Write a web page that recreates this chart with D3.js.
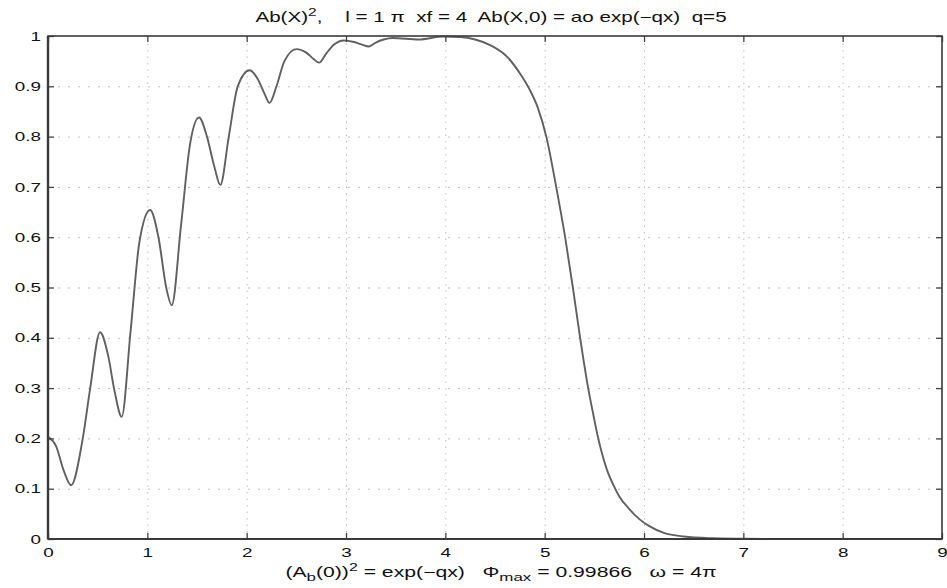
<!DOCTYPE html>
<html><head><meta charset="utf-8">
<script src="https://cdn.jsdelivr.net/npm/d3@7"></script>
<style>
body{margin:0;background:#fff}
text{font-family:"Liberation Sans",Arial,Helvetica,sans-serif;fill:#111;white-space:pre}
</style>
</head><body>
<svg id="chart" width="947" height="588"></svg>
<script>
// ---- data ----
const xValues = [0, 0.08, 0.16, 0.232, 0.35, 0.425, 0.524, 0.605, 0.672, 0.742, 0.83, 0.92, 1.028, 1.112, 1.19, 1.246, 1.34, 1.43, 1.52, 1.60, 1.675, 1.735, 1.82, 1.91, 2.03, 2.11, 2.18, 2.23, 2.30, 2.38, 2.50, 2.60, 2.67, 2.73, 2.80, 2.88, 2.98, 3.08, 3.16, 3.23, 3.30, 3.38, 3.47, 3.73, 3.98, 4.15, 4.30, 4.45, 4.62, 4.75, 4.85, 4.93, 5.02, 5.116, 5.206, 5.284, 5.357, 5.438, 5.49, 5.539, 5.58, 5.63, 5.69, 5.75, 5.85, 5.95, 6.05, 6.20, 6.40, 6.70, 7.00, 7.50, 9.00];
const yValues = [0.203, 0.185, 0.135, 0.107, 0.20, 0.30, 0.411, 0.365, 0.292, 0.243, 0.41, 0.59, 0.654, 0.60, 0.50, 0.465, 0.625, 0.785, 0.838, 0.80, 0.74, 0.704, 0.80, 0.90, 0.932, 0.915, 0.885, 0.867, 0.90, 0.95, 0.974, 0.967, 0.955, 0.947, 0.965, 0.983, 0.991, 0.988, 0.983, 0.979, 0.987, 0.993, 0.996, 0.993, 0.999, 0.998, 0.993, 0.982, 0.959, 0.926, 0.893, 0.858, 0.797, 0.70, 0.60, 0.50, 0.40, 0.30, 0.247, 0.20, 0.168, 0.136, 0.108, 0.085, 0.06, 0.04, 0.026, 0.012, 0.005, 0.0015, 0.0004, 0, 0];
const xTicks = [0, 1, 2, 3, 4, 5, 6, 7, 8, 9];
const xTickLabels = ["0", "1", "2", "3", "4", "5", "6", "7", "8", "9"];
const yTicks = [0, 0.1, 0.2, 0.3, 0.4, 0.5, 0.6, 0.7, 0.8, 0.9, 1];
const yTickLabels = ["0", "0.1", "0.2", "0.3", "0.4", "0.5", "0.6", "0.7", "0.8", "0.9", "1"];
const titleParts = [["Ab(X)", 0], ["2", 1, 0.75], [",    l = 1 \u03c0  xf = 4  Ab(X,0) = ao exp(\u2212qx)  q=5", 0]];
const xLabelParts = [["(A", 0], ["b", -1, 0.8], ["(0))", 0], ["2", 1, 0.75], [" = exp(\u2212qx)   \u03a6", 0], ["max", -1, 0.8], [" = 0.99866   \u03c9 = 4\u03c0", 0]];

// ---- layout ----
const W = 947, H = 588;
const m = {left: 48, right: 5, top: 36, bottom: 49};
const pw = W - m.left - m.right, ph = H - m.top - m.bottom;
const svg = d3.select("#chart");
const g = svg.append("g").attr("transform", `translate(${m.left},${m.top})`);

const x = d3.scaleLinear().domain([0, 9]).range([0, pw]);
const y = d3.scaleLinear().domain([0, 1]).range([ph, 0]);

// grid
g.append("g").attr("class", "gridx")
  .attr("transform", `translate(0,${ph})`)
  .call(d3.axisBottom(x).tickValues(xTicks.slice(1, -1)).tickSize(-ph).tickFormat(""))
  .call(s => s.select(".domain").remove())
  .selectAll("line").attr("stroke", "#bdbdbd").attr("stroke-width", 1).attr("stroke-dasharray", "1.5,5");
g.append("g").attr("class", "gridy")
  .call(d3.axisLeft(y).tickValues(yTicks.slice(1, -1)).tickSize(-pw).tickFormat(""))
  .call(s => s.select(".domain").remove())
  .selectAll("line").attr("stroke", "#bdbdbd").attr("stroke-width", 1).attr("stroke-dasharray", "2,8");

// curve
const line = d3.line().x(d => x(d[0])).y(d => y(d[1])).curve(d3.curveMonotoneX);
g.append("path").datum(xValues.map((v, i) => [v, yValues[i]]))
  .attr("d", line).attr("fill", "none").attr("stroke", "#606060").attr("stroke-width", 1.9)
  .attr("stroke-linejoin", "round");

// axes
const SX = 1.45;
const xa = g.append("g").attr("transform", `translate(0,${ph})`)
  .call(d3.axisBottom(x).tickValues(xTicks).tickFormat((d, i) => xTickLabels[i]).tickSize(-6).tickPadding(9));
const ya = g.append("g")
  .call(d3.axisLeft(y).tickValues(yTicks).tickFormat((d, i) => yTickLabels[i]).tickSize(-6).tickPadding(7));
g.append("g").call(d3.axisTop(x).tickValues(xTicks).tickSize(-6).tickFormat(""));
g.append("g").attr("transform", `translate(${pw},0)`).call(d3.axisRight(y).tickValues(yTicks).tickSize(-6).tickFormat(""));
g.selectAll(".domain").remove();
g.selectAll(".tick line").filter(function(){ return !this.closest(".gridx") && !this.closest(".gridy"); })
  .attr("stroke", "#444").attr("stroke-width", 1.3);
[xa, ya].forEach(a => a.selectAll("text")
  .attr("font-size", 13).attr("fill", "#111")
  .style("font-family", '"Liberation Sans",Arial,sans-serif'));
xa.selectAll("text").attr("transform", `scale(${SX},1)`);
ya.selectAll("text").attr("x", -7 / SX).attr("transform", `scale(${SX},1)`);

// box
g.append("rect").attr("width", pw).attr("height", ph).attr("fill", "none").attr("stroke", "#3a3a3a").attr("stroke-width", 1.6);
g.append("line").attr("x1", 0).attr("x2", 0).attr("y1", 0).attr("y2", ph).attr("stroke", "#3a3a3a").attr("stroke-width", 2.4);
g.append("line").attr("x1", 0).attr("x2", pw).attr("y1", ph).attr("y2", ph).attr("stroke", "#3a3a3a").attr("stroke-width", 2.2);

// title and x-label (super/subscripts via tspans, stretched horizontally like the reference)
function rich(parts, cx, baseline, size, targetW){
  const grp = svg.append("g");
  const t = grp.append("text").attr("text-anchor", "middle").attr("font-size", size);
  let cur = 0;
  parts.forEach(([s, lvl, fs]) => {
    const off = lvl === 1 ? -0.4 * size : (lvl === -1 ? 0.32 * size : 0);
    const ts = t.append("tspan").text(s).attr("dy", off - cur);
    if (fs) ts.attr("font-size", size * fs);
    cur = off;
  });
  const bw = t.node().getBBox().width;
  grp.attr("transform", `translate(${cx},${baseline}) scale(${targetW / bw},1)`);
}
rich(titleParts, 491, 21.5, 14, 472);
rich(xLabelParts, 501, 577, 14, 432);
</script>
</body></html>
